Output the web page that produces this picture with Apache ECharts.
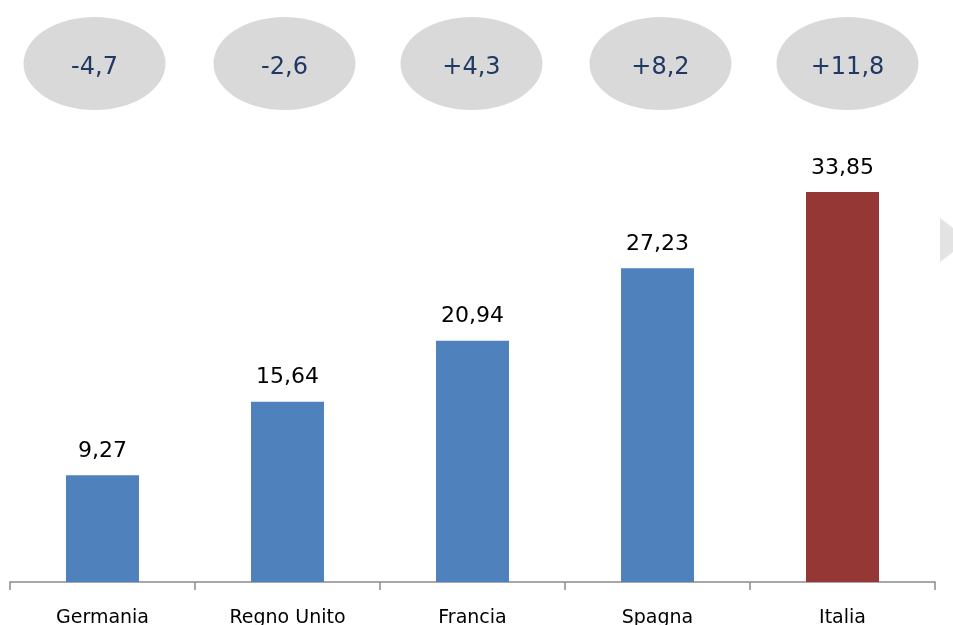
<!DOCTYPE html>
<html><head><meta charset="utf-8">
<script src="https://cdn.jsdelivr.net/npm/echarts@6/dist/echarts.min.js"></script>
<style>html,body{margin:0;padding:0;background:#fff}#c{width:953px;height:625px}</style>
</head><body><div id="c"></div>
<script>
const categories = ['Germania', 'Regno Unito', 'Francia', 'Spagna', 'Italia'];
const values = [9.27, 15.64, 20.94, 27.23, 33.85];
const changes = ['-4,7', '-2,6', '+4,3', '+8,2', '+11,8'];
const highlight = 'Italia';

const bubbleShift = [-8, -3, -1, 3, 5];

const chart = echarts.init(document.getElementById('c'));
const fmt = v => v.toFixed(2).replace('.', ',');
chart.setOption({
  animation: false,
  grid: [
    { left: 10, right: 18, top: 121, bottom: 43, outerBoundsMode: 'none', containLabel: false },
    { left: 10, right: 18, top: 17, height: 93, outerBoundsMode: 'none', containLabel: false }
  ],
  xAxis: [
    { type: 'category', data: categories, gridIndex: 0,
      axisLine: { lineStyle: { color: '#8c8c8c', width: 1.5 } },
      axisTick: { show: true, length: 8, lineStyle: { color: '#8c8c8c', width: 1.5 } },
      axisLabel: { color: '#000', fontFamily: 'DejaVu Sans', fontSize: 19, margin: 27 } },
    { type: 'category', data: categories, gridIndex: 1, show: false }
  ],
  yAxis: [
    { type: 'value', min: 0, max: 40, gridIndex: 0, show: false },
    { type: 'value', min: 0, max: 1, gridIndex: 1, show: false }
  ],
  series: [
    { type: 'bar', xAxisIndex: 0, yAxisIndex: 0, barWidth: 73,
      data: values.map((v, i) => ({ value: v,
        itemStyle: { color: categories[i] === highlight ? '#953735' : '#4F81BD' } })),
      label: { show: true, position: 'top', distance: 13, formatter: p => fmt(p.value),
        color: '#000', fontFamily: 'DejaVu Sans', fontSize: 22 } },
    { type: 'scatter', xAxisIndex: 1, yAxisIndex: 1, symbol: 'circle',
      symbolSize: [142, 93], clip: false,
      itemStyle: { color: '#D9D9D9', opacity: 1 },
      data: changes.map((c, i) => ({ value: 0.5, name: c, symbolOffset: [bubbleShift[i], 0] })),
      label: { show: true, position: 'inside', formatter: p => p.name,
        color: '#1F3864', fontFamily: 'DejaVu Sans', fontSize: 24, offset: [0, 4] } }
  ],
  graphic: [
    { type: 'polygon', shape: { points: [[940, 218], [953, 228], [953, 252], [940, 262]] },
      style: { fill: '#E3E3E3' } }
  ]
});
</script></body></html>
